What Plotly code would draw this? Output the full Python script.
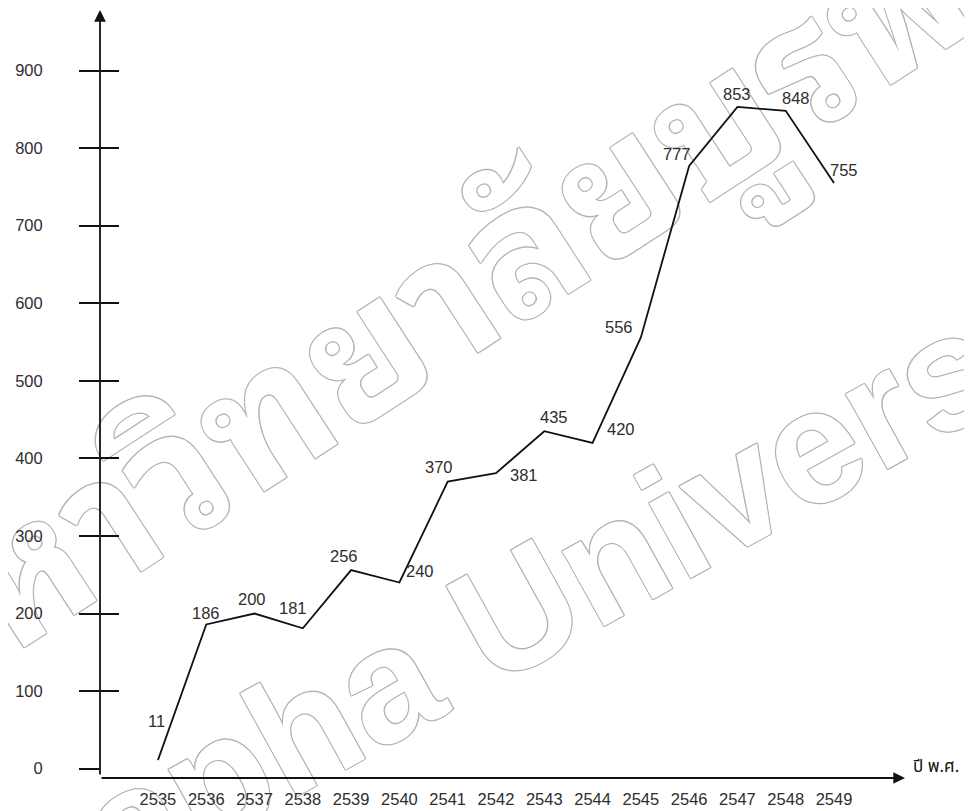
import plotly.graph_objects as go

# ---- data ----
years = ["2535", "2536", "2537", "2538", "2539", "2540", "2541", "2542",
         "2543", "2544", "2545", "2546", "2547", "2548", "2549"]
values = [11, 186, 200, 181, 256, 240, 370, 381, 435, 420, 556, 777, 853, 848, 755]
y_ticks = [0, 100, 200, 300, 400, 500, 600, 700, 800, 900]
x_title = "ปี พ.ศ."
wm_thai = "มหาวิทยาลัยบูรพา"
wm_eng = "Burapha University"

# label offsets in pixels (style only)
lab_dx = [-1, 0, -3, -10, -7, 21, -9, 28, 10, 28, -22, -12, 0, 10, 10]
lab_dy = [39, 11, 15, 20, 14, 12, 15, -2, 14, 14, 10, 12, 13, 13, 13]

xi = list(range(len(years)))
FONT = "Liberation Sans, Arial, sans-serif"
TXT = "#2e2e2e"
FS = 16.5

fig = go.Figure()
fig.add_trace(go.Scatter(x=xi, y=values, mode="lines",
                         line=dict(color="#111111", width=1.8),
                         hoverinfo="skip", showlegend=False))
# invisible trace for overlay axis (inside ticks)
fig.add_trace(go.Scatter(x=[xi[0]], y=[values[0]], yaxis="y2", mode="markers",
                         marker=dict(opacity=0), hoverinfo="skip", showlegend=False))

annotations = []
for i, (v, dx, dy) in enumerate(zip(values, lab_dx, lab_dy)):
    annotations.append(dict(x=i, y=v, text=str(v), showarrow=False,
                            xshift=dx, yshift=dy,
                            font=dict(family=FONT, size=FS, color=TXT)))
# axis arrows
annotations.append(dict(x=0, y=1, xref="paper", yref="paper", ax=0, ay=766,
                        axref="pixel", ayref="pixel", showarrow=True, text="",
                        arrowhead=2, arrowsize=1.3, arrowwidth=1.8, arrowcolor="#111"))
annotations.append(dict(x=1, y=0, xref="paper", yref="paper", ax=-805, ay=0,
                        axref="pixel", ayref="pixel", showarrow=True, text="",
                        arrowhead=2, arrowsize=1.3, arrowwidth=1.8, arrowcolor="#111"))
annotations.append(dict(x=1.069, y=-0.0055, xref="paper", yref="paper", text=x_title,
                        showarrow=False, font=dict(family="Noto Sans Thai, Noto Sans, DejaVu Sans, sans-serif",
                                                   size=17, color="#111")))

shadow = ",".join(f"{a}px {b}px 0 #b5b5b5" for a, b in
                  [(1, 0), (-1, 0), (0, 1), (0, -1), (1, 1), (-1, -1), (1, -1), (-1, 1)])
shapes = [
    dict(type="line", xref="paper", yref="paper", x0=0.03, y0=0.31, x1=0.865, y1=0.878,
         layer="below", line=dict(color="rgba(0,0,0,0)", width=0),
         label=dict(text=wm_thai, textposition="middle", textangle=-33, yanchor="middle",
                    font=dict(family="Noto Sans Thai Looped, Noto Sans Thai, Noto Sans, sans-serif",
                              size=178, color="white", weight="bold", shadow=shadow))),
    dict(type="line", xref="paper", yref="paper", x0=0.058, y0=-0.026, x1=0.918, y1=0.474,
         layer="below", line=dict(color="rgba(0,0,0,0)", width=0),
         label=dict(text=wm_eng, textposition="middle", textangle=-29, yanchor="middle",
                    font=dict(family="Liberation Sans, Arial, sans-serif",
                              size=162, color="white", weight="bold", shadow=shadow))),
]

# the page body adds an 8px offset, so the figure is 8px smaller than the window
fig.update_layout(
    width=964, height=803,
    margin=dict(l=92, r=67, t=2, b=33),
    paper_bgcolor="white", plot_bgcolor="rgba(0,0,0,0)",
    showlegend=False,
    annotations=annotations,
    shapes=shapes,
    xaxis=dict(range=[-1.2, 15.47], tickmode="array", tickvals=xi, ticktext=years,
               showgrid=False, zeroline=False, showline=False, ticks="",
               ticklabelstandoff=9, automargin=False,
               tickfont=dict(family=FONT, size=FS, color=TXT)),
    yaxis=dict(range=[-12, 978], tickmode="array", tickvals=y_ticks,
               ticktext=[str(t) for t in y_ticks],
               showgrid=False, zeroline=False, showline=False,
               ticks="outside", ticklen=20, tickwidth=1.6, tickcolor="#111",
               ticklabelstandoff=33, automargin=False,
               tickfont=dict(family=FONT, size=FS, color=TXT)),
    yaxis2=dict(range=[-12, 978], overlaying="y", side="left", anchor="x",
                tickmode="array", tickvals=y_ticks[1:], showticklabels=False,
                showgrid=False, zeroline=False, showline=False, automargin=False,
                ticks="inside", ticklen=19, tickwidth=1.6, tickcolor="#111"),
)

fig.write_html("out.html")
